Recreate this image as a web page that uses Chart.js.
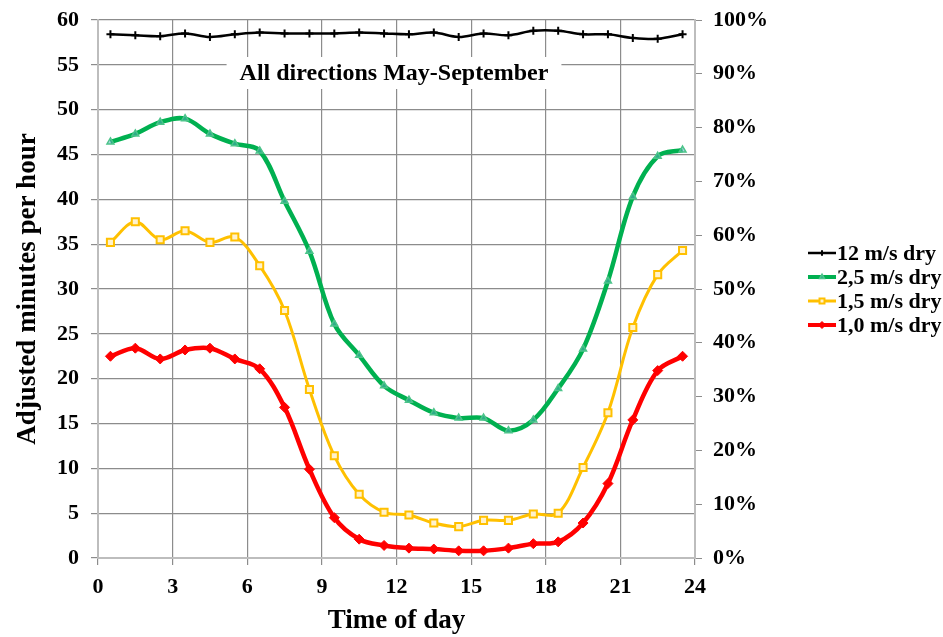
<!DOCTYPE html>
<html>
<head>
<meta charset="utf-8">
<script src="https://cdn.jsdelivr.net/npm/chart.js@4/dist/chart.umd.min.js"></script>
<style>
  html, body { margin: 0; padding: 0; background: #fff; }
  #wrap { width: 943px; height: 637px; }
</style>
</head>
<body>
<div id="wrap"><canvas id="c" width="943" height="637"></canvas></div>
<script>
// Hour-of-day midpoints
const hours = [0.5, 1.5, 2.5, 3.5, 4.5, 5.5, 6.5, 7.5, 8.5, 9.5, 10.5, 11.5,
               12.5, 13.5, 14.5, 15.5, 16.5, 17.5, 18.5, 19.5, 20.5, 21.5, 22.5, 23.5];

// Adjusted minutes per hour for each wind-speed threshold
const dry12 = [58.4, 58.3, 58.2, 58.5, 58.1, 58.4, 58.6, 58.5, 58.5, 58.5, 58.6, 58.5,
               58.4, 58.6, 58.1, 58.5, 58.3, 58.8, 58.8, 58.4, 58.4, 58.0, 57.9, 58.4];
const dry25 = [46.4, 47.3, 48.6, 49.0, 47.3, 46.2, 45.4, 39.8, 34.2, 26.1, 22.6, 19.2,
               17.6, 16.2, 15.6, 15.6, 14.2, 15.4, 18.9, 23.3, 30.9, 40.3, 44.8, 45.5];
const dry15 = [35.2, 37.5, 35.5, 36.5, 35.2, 35.8, 32.6, 27.6, 18.8, 11.4, 7.1, 5.1,
               4.8, 3.9, 3.5, 4.2, 4.2, 4.9, 5.0, 10.1, 16.2, 25.7, 31.6, 34.3];
const dry10 = [22.5, 23.4, 22.2, 23.2, 23.4, 22.2, 21.1, 16.8, 9.9, 4.5, 2.1, 1.4,
               1.1, 1.0, 0.8, 0.8, 1.1, 1.6, 1.8, 3.9, 8.3, 15.4, 20.9, 22.5];

const seriesNames = ['12 m/s dry', '2,5 m/s dry', '1,5 m/s dry', '1,0 m/s dry'];
const chartTitle = 'All directions May-September';

const SERIF = "'Liberation Serif', 'Times New Roman', serif";
const pts = arr => arr.map((v, i) => ({ x: hours[i], y: v }));

// Caption box drawn inside the plot, over the grid
const captionPlugin = {
  id: 'caption',
  beforeDatasetsDraw(chart) {
    const ctx = chart.ctx;
    const cx = 394;
    const cy = 73;
    ctx.save();
    ctx.font = 'bold 24px ' + SERIF;
    const w = ctx.measureText(chartTitle).width;
    ctx.fillStyle = '#fff';
    ctx.fillRect(cx - w / 2 - 13, cy - 16, w + 26, 32);
    ctx.fillStyle = '#000';
    ctx.textAlign = 'center';
    ctx.textBaseline = 'middle';
    ctx.fillText(chartTitle, cx, cy + 1);
    ctx.restore();
  }
};

// Legend on the right: line sample with marker, then label
const legendPlugin = {
  id: 'sideLegend',
  afterDraw(chart) {
    const ctx = chart.ctx;
    const x0 = 808, x1 = 836, y0 = 253, step = 24;
    ctx.save();
    ctx.font = 'bold 22px ' + SERIF;
    ctx.textBaseline = 'middle';
    chart.data.datasets.forEach((ds, i) => {
      const y = y0 + i * step;
      ctx.strokeStyle = ds.borderColor;
      ctx.lineWidth = Math.min(ds.borderWidth, 4);
      ctx.beginPath();
      ctx.moveTo(x0, y);
      ctx.lineTo(x1, y);
      ctx.stroke();
      ctx.fillStyle = ds.pointBackgroundColor;
      ctx.strokeStyle = ds.pointBorderColor;
      ctx.lineWidth = ds.pointBorderWidth;
      Chart.helpers.drawPoint(ctx, {
        pointStyle: ds.pointStyle,
        radius: ds.pointRadius * 0.7,
        rotation: 0,
        borderWidth: ds.pointBorderWidth
      }, (x0 + x1) / 2, y);
      ctx.fillStyle = '#000';
      ctx.fillText(ds.label, x1 + 1, y + 1);
    });
    ctx.restore();
  }
};

// Vertical scales: no extra label padding so the plot top sits at the layout padding
function fixVertical(width) {
  return function (s) {
    s.width = width;
    s.paddingTop = 0;
    s.paddingBottom = 0;
  };
}

new Chart(document.getElementById('c'), {
  type: 'line',
  data: {
    datasets: [
      {
        label: seriesNames[0], data: pts(dry12),
        borderColor: '#000', borderWidth: 2.5, tension: 0.35,
        pointStyle: 'cross', pointRadius: 4, pointBorderWidth: 2,
        pointBorderColor: '#000', pointBackgroundColor: '#000'
      },
      {
        label: seriesNames[1], data: pts(dry25),
        borderColor: '#00B050', borderWidth: 4.5, tension: 0.35,
        pointStyle: 'triangle', pointRadius: 4, pointBorderWidth: 1.5,
        pointBorderColor: '#4cc48a', pointBackgroundColor: 'rgba(90,170,190,0.5)'
      },
      {
        label: seriesNames[2], data: pts(dry15),
        borderColor: '#FFC000', borderWidth: 3, tension: 0.35,
        pointStyle: 'rect', pointRadius: 5, pointBorderWidth: 2,
        pointBorderColor: '#FFC000', pointBackgroundColor: '#FFF2CC'
      },
      {
        label: seriesNames[3], data: pts(dry10),
        borderColor: '#FF0000', borderWidth: 4.5, tension: 0.35,
        pointStyle: 'rectRot', pointRadius: 5, pointBorderWidth: 1,
        pointBorderColor: '#FF0000', pointBackgroundColor: '#FF0000'
      }
    ]
  },
  options: {
    responsive: false,
    animation: false,
    layout: { padding: { top: 20, left: 0, right: 0, bottom: 0 } },
    plugins: { legend: { display: false }, tooltip: { enabled: false } },
    scales: {
      x: {
        type: 'linear', min: 0, max: 24,
        afterFit(s) { s.height = 79; s.paddingLeft = 0; s.paddingRight = 0; },
        ticks: { stepSize: 3, color: '#000', padding: 9,
                 font: { family: SERIF, size: 22, weight: 'bold' } },
        grid: { color: '#8c8c8c', lineWidth: 1.2, tickLength: 7 },
        border: { color: '#bdbdbd', width: 2 },
        title: { display: true, text: 'Time of day', color: '#000',
                 padding: { top: 4, bottom: 0 },
                 font: { family: SERIF, size: 27, weight: 'bold' } }
      },
      y: {
        type: 'linear', min: 0, max: 60, position: 'left',
        afterFit: fixVertical(98),
        ticks: { stepSize: 5, color: '#000', padding: 12,
                 font: { family: SERIF, size: 22, weight: 'bold' } },
        grid: { color: '#8c8c8c', lineWidth: 1.2, tickLength: 7 },
        border: { color: '#bdbdbd', width: 2 },
        title: { display: true, text: 'Adjusted minutes per hour', color: '#000',
                 padding: { top: 12, bottom: 0 },
                 font: { family: SERIF, size: 27, weight: 'bold' } }
      },
      y2: {
        type: 'linear', min: 0, max: 60, position: 'right',
        afterFit: fixVertical(248),
        afterBuildTicks(s) {
          s.ticks = [0, 6, 12, 18, 24, 30, 36, 42, 48, 54, 60].map(v => ({ value: v }));
        },
        ticks: { color: '#000', padding: 11,
                 callback: v => Math.round(v / 60 * 100) + '%',
                 font: { family: SERIF, size: 22, weight: 'bold' } },
        grid: { drawOnChartArea: false, color: '#8c8c8c', tickLength: 7 },
        border: { color: '#bdbdbd', width: 2 }
      }
    }
  },
  plugins: [captionPlugin, legendPlugin]
});
</script>
</body>
</html>
